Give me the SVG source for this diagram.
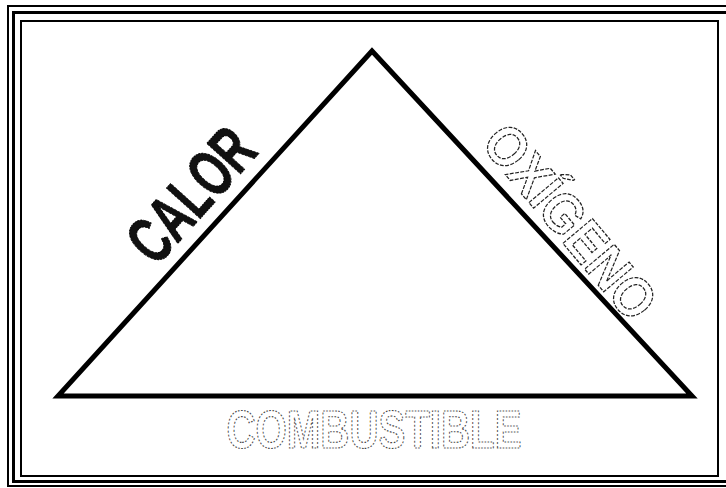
<svg xmlns="http://www.w3.org/2000/svg" width="726" height="488" viewBox="0 0 726 488">
<style>
.frame{fill:none;stroke:#000}
.tri{fill:none;stroke:#000;stroke-width:5;stroke-linejoin:miter}
.lbl{font-family:"Liberation Sans",Arial,sans-serif;font-weight:bold;text-anchor:middle}
.solid{fill:#111;stroke:#000;stroke-width:1;stroke-dasharray:3 1}
.hollow{fill:#fff;stroke:#222;stroke-width:1.3;stroke-dasharray:4 1.5}
.speck{fill:#fff;stroke:#444;stroke-width:1.2;stroke-dasharray:2 2}
</style>
<rect width="726" height="488" fill="#fff"/>
<g id="frame">
<rect class="frame" x="8" y="6" width="724" height="480" stroke-width="2"/>
<rect class="frame" x="13.5" y="12.5" width="715" height="469" stroke-width="3"/>
<rect class="frame" x="21" y="21" width="697" height="455" stroke-width="2"/>
</g>
<g id="connectors">
<polygon class="tri" points="372,51 58,396 692,396"/>
</g>
<g id="calor" transform="translate(190,194) rotate(-48) scale(0.66,1)">
<text class="lbl solid" x="0" y="24" font-size="66">CALOR</text>
</g>
<g id="oxigeno" transform="translate(570,222) rotate(50) scale(0.9,1)">
<text class="lbl hollow" x="0" y="19" font-size="56">OXÍGENO</text>
</g>
<g id="combustible" transform="translate(374,448) scale(0.745,1)">
<text class="lbl speck" x="0" y="0" font-size="54">COMBUSTIBLE</text>
</g>
</svg>
